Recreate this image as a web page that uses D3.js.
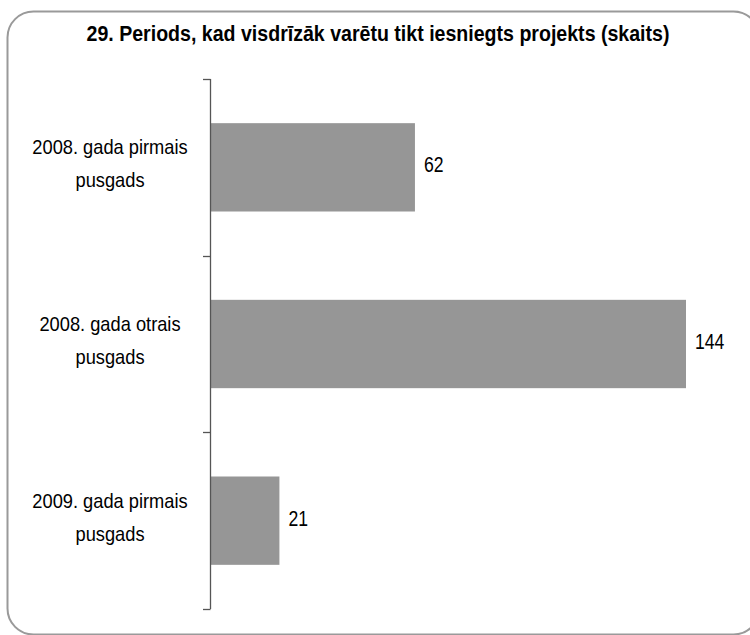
<!DOCTYPE html>
<html>
<head>
<meta charset="utf-8">
<title>Periods</title>
<script src="https://d3js.org/d3.v7.min.js"></script>
<style>
  body { margin: 0; background: #fff; }
  svg text { font-family: "Liberation Sans", Arial, sans-serif; fill: #000; }
</style>
</head>
<body>
<svg id="chart" width="750" height="635"></svg>
<script>
// data
var categories = [
  ["2008. gada pirmais", "pusgads"],
  ["2008. gada otrais", "pusgads"],
  ["2009. gada pirmais", "pusgads"]
];
var values = [62, 144, 21];
var title = "29. Periods, kad visdrīzāk varētu tikt iesniegts projekts (skaits)";

var svg = d3.select("#chart");

// the original uses a condensed face, so squeeze the text horizontally
function squeeze(x, y, sx) {
  return "translate(" + x + "," + y + ") scale(" + sx + ",1)";
}

// rounded frame
svg.append("rect")
  .attr("x", 7.5).attr("y", 11.5)
  .attr("width", 752).attr("height", 623)
  .attr("rx", 26).attr("ry", 26)
  .attr("fill", "none")
  .attr("stroke", "#9a9a9a")
  .attr("stroke-width", 2);

svg.append("text")
  .attr("transform", squeeze(378, 41, 0.89))
  .attr("text-anchor", "middle")
  .style("font-weight", "bold")
  .style("font-size", "22px")
  .text(title);

var y = d3.scaleBand()
  .domain(d3.range(values.length))
  .range([79, 609])
  .paddingInner(0.5)
  .paddingOuter(0.25);

var x = d3.scaleLinear()
  .domain([0, 144])
  .range([210, 686]);

// bars
svg.append("g")
  .selectAll("rect")
  .data(values)
  .enter()
  .append("rect")
    .attr("x", x(0))
    .attr("y", function(d, i) { return y(i); })
    .attr("width", function(d) { return x(d) - x(0); })
    .attr("height", y.bandwidth())
    .attr("fill", "#969696");

// value labels
svg.append("g")
  .selectAll("text")
  .data(values)
  .enter()
  .append("text")
    .attr("transform", function(d, i) {
      return squeeze(x(d) + 9, y(i) + y.bandwidth() / 2 + 5, 0.8);
    })
    .style("font-size", "22px")
    .text(function(d) { return d; });

// category axis (ticks between the bands)
var tickYs = d3.range(values.length + 1).map(function(i) { return 79 + i * (530 / values.length); });
var axis = svg.append("g");
axis.append("line")
  .attr("x1", 210.5).attr("x2", 210.5)
  .attr("y1", 79).attr("y2", 609)
  .attr("stroke", "#555").attr("stroke-width", 1.3);
axis.selectAll("line.tick")
  .data(tickYs)
  .enter()
  .append("line")
    .attr("class", "tick")
    .attr("x1", 203).attr("x2", 210.5)
    .attr("y1", function(d) { return Math.round(d) + 0.5; })
    .attr("y2", function(d) { return Math.round(d) + 0.5; })
    .attr("stroke", "#555").attr("stroke-width", 1.3);

// category labels
var labels = svg.append("g")
  .selectAll("text")
  .data(categories)
  .enter()
  .append("text")
    .attr("text-anchor", "middle")
    .attr("transform", function(d, i) {
      return squeeze(110, y(i) + y.bandwidth() / 2 - 13, 0.87);
    })
    .style("font-size", "21px");

labels.selectAll("tspan")
  .data(function(d) { return d; })
  .enter()
  .append("tspan")
    .attr("x", 0)
    .attr("dy", function(d, j) { return j === 0 ? 0 : 33; })
    .text(function(d) { return d; });
</script>
</body>
</html>
